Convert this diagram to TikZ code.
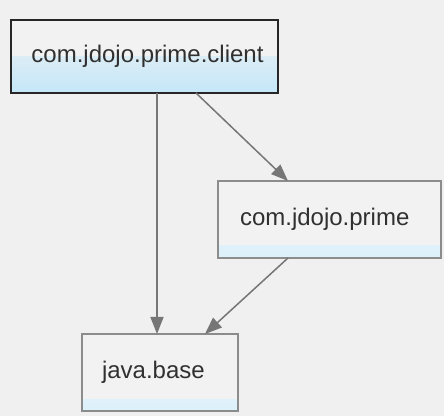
\documentclass[tikz,border=0pt]{standalone}
\usepackage{fontspec}
\setmainfont{Liberation Sans}
\usepackage{tikz}
\usetikzlibrary{arrows.meta, positioning, calc}
\definecolor{BgGray}{HTML}{F0F0F0}
\definecolor{BoxFill}{HTML}{F2F2F2}
\definecolor{BandBlue}{HTML}{C4E7F8}
\definecolor{BandLight}{HTML}{DCF1FB}
\definecolor{EdgeGray}{HTML}{767676}
\definecolor{FrameGray}{HTML}{8C8C8C}
\definecolor{TextDark}{HTML}{303030}
\tikzset{
    module/.style={draw=FrameGray, line width=0.6pt, fill=BoxFill, outer sep=0pt, inner sep=0pt, minimum height=38.5pt, align=left, text=TextDark, font=\fontsize{12}{14}\selectfont,
        path picture={\shade[top color=BoxFill, bottom color=BandLight] ([yshift=6pt]path picture bounding box.south west) rectangle (path picture bounding box.south east);}},
    rootmodule/.style={module, align=center, draw=TextDark!80!black, line width=1.1pt, minimum height=36.5pt,
        path picture={\shade[top color=BoxFill, bottom color=BandBlue] ([yshift=18pt]path picture bounding box.south west) rectangle (path picture bounding box.south east);}},
    arr/.style={-{Triangle[length=8.5pt, width=6.5pt]}, line width=0.75pt, draw=EdgeGray, fill=EdgeGray}
}
\begin{document}
\begin{tikzpicture}
    % Background and page size
    \fill[BgGray] (0,0) rectangle (222pt,-208pt);
    \useasboundingbox (0,0) rectangle (222pt,-208pt);

    % Modules
    \node[rootmodule, minimum width=133.5pt, xshift=0pt] (client) at (72.25pt,-28.25pt) {\hspace*{3pt}com.jdojo.prime.client};
    \node[module, minimum width=111.5pt, text width=89.5pt, below right=44pt and -30pt of client] (prime) {com.jdojo.prime};
    \node[module, minimum width=78pt, text width=58pt, below left=38pt and -10pt of prime] (base) {java.base};

    % Dependencies
    \draw[arr] ([xshift=-1.5pt]client.south -| base.north) -- ([xshift=-1.5pt]base.north);
    \draw[arr] ([xshift=25.75pt]client.south) -- ([xshift=-20.75pt]prime.north);
    \draw[arr] ([xshift=-20.75pt]prime.south) -- ([xshift=22.5pt]base.north);
\end{tikzpicture}
\end{document}
